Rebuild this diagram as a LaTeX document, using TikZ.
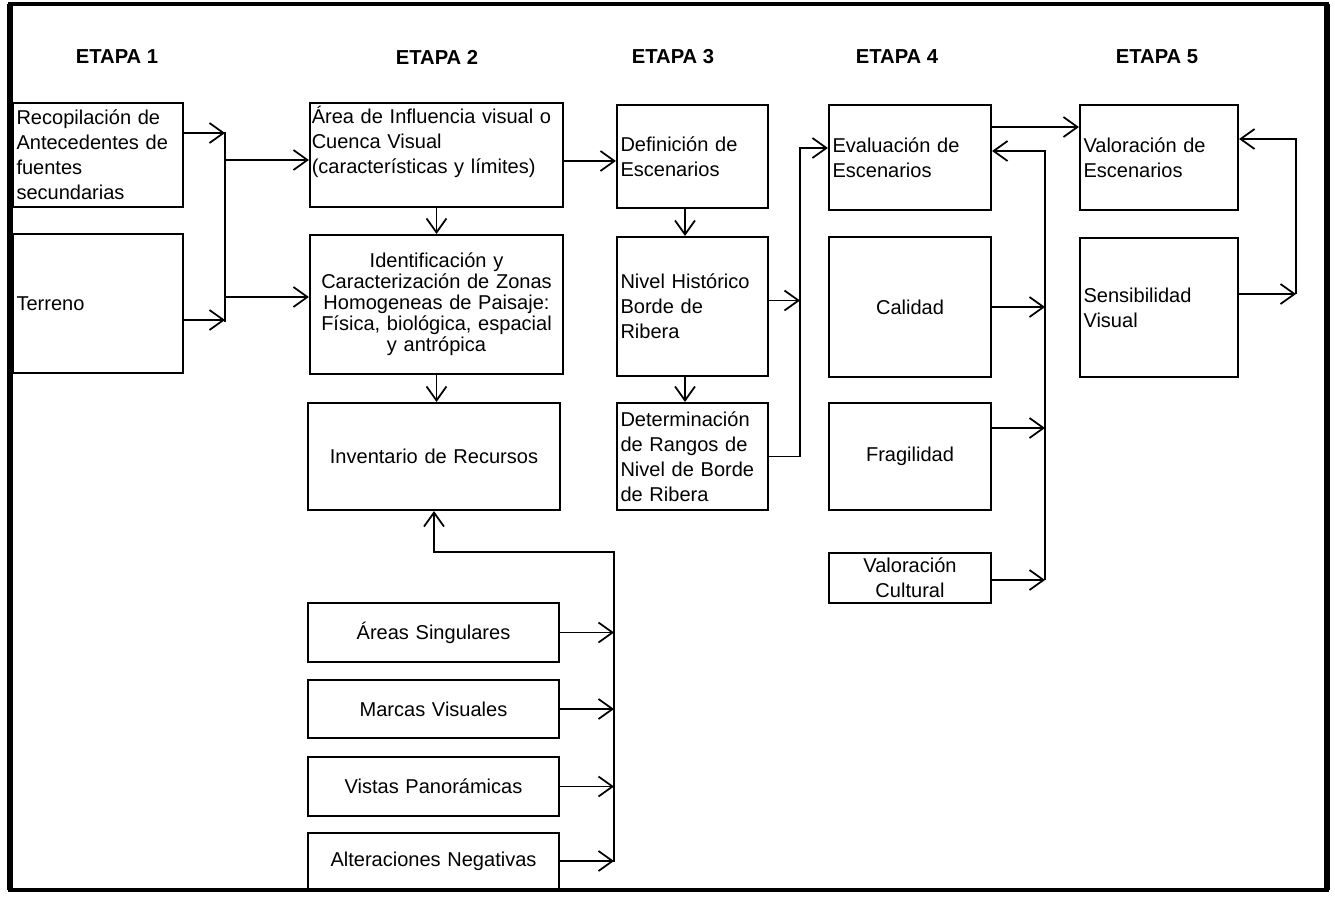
\documentclass[tikz,border=0pt]{standalone}
\usepackage{fontspec}
\setmainfont{Liberation Sans}
\usepackage{tikz}
\usetikzlibrary{arrows.meta, calc}
\newcommand{\boxfont}{\fontsize{11.4}{14.2}\selectfont}
\tikzset{
  stage box/.style={
    draw,
    line width=1.2pt,
    inner sep=2pt,
    font=\boxfont,
    align=left
  },
  stage title/.style={
    font=\fontsize{11.5}{13}\selectfont\bfseries
  },
  flow/.style={
    -{Straight Barb[length=2.8mm, width=4mm, line width=1pt]},
    line width=0.9pt
  },
  bus/.style={line width=0.9pt}
}

\begin{document}
\begin{tikzpicture}
  \useasboundingbox (0,0) rectangle (26.7,-17.92);

  % Frame
  \draw[line width=2pt] (0.2,-0.08) rectangle (26.54,-17.8);
  \draw[line width=3.5pt] (0.2,-0.08) -- (0.2,-17.8);
  \draw[line width=3.5pt] (26.54,-0.08) -- (26.54,-17.8);

  % Headers
  \node[stage title] (etapa1) at (2.34,-1.14) {ETAPA 1};
  \node[stage title] (etapa2) at (8.74,-1.14) {ETAPA 2};
  \node[stage title] (etapa3) at (13.46,-1.14) {ETAPA 3};
  \node[stage title] (etapa4) at (17.94,-1.14) {ETAPA 4};
  \node[stage title] (etapa5) at (23.14,-1.14) {ETAPA 5};

  % Etapa 1
  \node[stage box, text width=3.26cm, minimum height=2.08cm] (reco) at (1.96,-3.10)
    {Recopilación de\\Antecedentes de\\fuentes\\secundarias};
  \node[stage box, text width=3.26cm, minimum height=2.78cm] (terreno) at (1.96,-6.07) {Terreno};

  % Etapa 2
  \node[stage box, inner xsep=1pt, text width=4.99cm, minimum height=2.08cm] (area) at (8.73,-3.10)
    {Área de Influencia visual o\\Cuenca Visual\\(características y límites)\rule[-0.6cm]{0pt}{0pt}};
  \node[stage box, align=center, text width=4.92cm, minimum height=2.78cm,
    font=\fontsize{11.4}{11.9}\selectfont] (zonas) at (8.73,-6.09)
    {Identificación y\\Caracterización de Zonas\\Homogeneas de Paisaje:\\Física, biológica, espacial\\y antrópica};
  \node[stage box, align=center, text width=4.90cm, minimum height=2.14cm] (inventario) at (8.68,-9.13)
    {Inventario de Recursos};
  \node[stage box, align=center, text width=4.88cm, minimum height=1.18cm] (singulares) at (8.67,-12.65)
    {Áreas Singulares};
  \node[stage box, align=center, text width=4.88cm, minimum height=1.16cm] (marcas) at (8.67,-14.18)
    {Marcas Visuales};
  \node[stage box, align=center, text width=4.88cm, minimum height=1.18cm] (vistas) at (8.67,-15.73)
    {Vistas Panorámicas};
  \node[stage box, align=center, text width=4.88cm, minimum height=1.12cm] (alteraciones) at (8.67,-17.22)
    {Alteraciones Negativas};

  % Etapa 3
  \node[stage box, text width=2.88cm, minimum height=2.06cm] (escenarios) at (13.85,-3.13)
    {Definición de\\Escenarios};
  \node[stage box, text width=2.88cm, minimum height=2.78cm] (nivel) at (13.85,-6.13)
    {Nivel Histórico\\Borde de\\Ribera};
  \node[stage box, text width=2.88cm, minimum height=2.14cm] (rangos) at (13.85,-9.13)
    {Determinación\\de Rangos de\\Nivel de Borde\\de Ribera};

  % Etapa 4
  \node[stage box, text width=3.10cm, minimum height=2.10cm] (evaluacion) at (18.2,-3.15)
    {Evaluación de\\Escenarios};
  \node[stage box, align=center, text width=3.10cm, minimum height=2.80cm] (calidad) at (18.2,-6.14)
    {Calidad};
  \node[stage box, align=center, text width=3.10cm, minimum height=2.14cm] (fragilidad) at (18.2,-9.13)
    {Fragilidad};
  \node[stage box, align=center, inner ysep=0pt, text width=3.10cm, minimum height=1.0cm] (cultural) at (18.2,-11.56)
    {Valoración\\Cultural};

  % Etapa 5
  \node[stage box, text width=3.02cm, minimum height=2.10cm] (valoracion) at (23.18,-3.15)
    {Valoración de\\Escenarios};
  \node[stage box, text width=3.02cm, minimum height=2.78cm] (sensibilidad) at (23.18,-6.15)
    {Sensibilidad\\Visual};

  % Etapa 1 -> Etapa 2
  \coordinate (in1) at (4.5,-2.66);
  \coordinate (in2) at (4.5,-6.40);
  \coordinate (out1) at (4.5,-3.20);
  \coordinate (out2) at (4.5,-5.94);
  \draw[bus] (4.5,-2.64) -- (4.5,-6.44);
  \draw[flow] (reco.east |- in1) -- (in1);
  \draw[flow] (terreno.east |- in2) -- (in2);
  \draw[flow] (out1) -- (area.west |- out1);
  \draw[flow] (out2) -- (zonas.west |- out2);

  % Etapa 2
  \draw[flow] (area.south) -- (zonas.north);
  \draw[flow] (zonas.south) -- (zonas.south |- inventario.north);
  \draw[flow] ([yshift=-0.12cm]area.east) -- ([yshift=-0.12cm]area.east -| escenarios.west);

  % Recursos
  \coordinate (bus2top) at (12.28,-11.04);
  \coordinate (bus2bot) at (12.28,-17.24);
  \draw[flow] (bus2bot) -- (bus2top) -| (inventario.south);
  \foreach \n in {singulares, marcas, vistas, alteraciones}
    \draw[flow] (\n.east) -- (bus2top |- \n.east);

  % Etapa 3
  \coordinate (bus3top) at (16.0,-2.96);
  \draw[flow] ([xshift=-0.15cm]escenarios.south) -- ([xshift=-0.15cm]nivel.north);
  \draw[flow] ([xshift=-0.15cm]nivel.south) -- ([xshift=-0.15cm]rangos.north);
  \draw[flow] ([yshift=0.12cm]nivel.east) -- ([yshift=0.12cm]nivel.east -| bus3top);
  \draw[flow] (rangos.east) -| (bus3top) -- (evaluacion.west |- bus3top);

  % Etapa 4
  \coordinate (fwd) at (19.9,-2.54);
  \coordinate (bus4top) at (20.9,-3.02);
  \coordinate (bus4bot) at (20.9,-11.6);
  \coordinate (fragin) at (20.9,-8.56);
  \draw[flow] (evaluacion.east |- fwd) -- (valoracion.west |- fwd);
  \draw[flow] (bus4bot) -- (bus4top) -- (evaluacion.east |- bus4top);
  \draw[flow] (calidad.east) -- (bus4top |- calidad.east);
  \draw[flow] (fragilidad.east |- fragin) -- (fragin);
  \draw[flow] (cultural.east |- bus4bot) -- (bus4bot);

  % Etapa 5
  \coordinate (bus5top) at (25.92,-2.78);
  \coordinate (bus5bot) at (25.92,-5.88);
  \draw[flow] (sensibilidad.east |- bus5bot) -- (bus5bot);
  \draw[flow] (bus5bot) -- (bus5top) -- (valoracion.east |- bus5top);
\end{tikzpicture}
\end{document}
